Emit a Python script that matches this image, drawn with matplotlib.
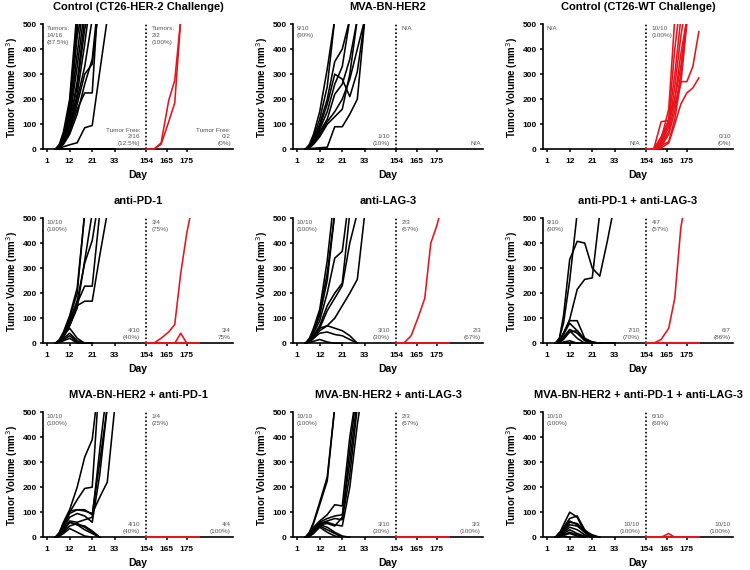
import numpy as np
import matplotlib
matplotlib.use('Agg')
import matplotlib.pyplot as plt

plt.rcParams['font.family'] = ['Liberation Sans', 'DejaVu Sans']

# measurement days: primary challenge (black) and re-challenge (red)
days_black = [5, 7, 9, 12, 15, 18, 21, 25, 29, 33]
days_red = [154, 158, 162, 166, 169, 172, 175, 178, 181]

tick_days = [1, 12, 21, 33, 154, 165, 175]
tick_labels = ['1', '12', '21', '33', '154', '165', '175']

titles = ['Control (CT26-HER-2 Challenge)', 'MVA-BN-HER2', 'Control (CT26-WT Challenge)',
          'anti-PD-1', 'anti-LAG-3', 'anti-PD-1 + anti-LAG-3',
          'MVA-BN-HER2 + anti-PD-1', 'MVA-BN-HER2 + anti-LAG-3',
          'MVA-BN-HER2 + anti-PD-1 + anti-LAG-3']

# annotations: top-left / bottom-right of each segment
notes_tl1 = ['Tumors:\n14/16\n(87.5%)', '9/10\n(90%)', 'N/A',
             '10/10\n(100%)', '10/10\n(100%)', '9/10\n(90%)',
             '10/10\n(100%)', '10/10\n(100%)', '10/10\n(100%)']
notes_br1 = ['Tumor Free:\n2/16\n(12.5%)', '1/10\n(10%)', 'N/A',
             '4/10\n(40%)', '3/10\n(30%)', '7/10\n(70%)',
             '4/10\n(40%)', '3/10\n(30%)', '10/10\n(100%)']
notes_tl2 = ['Tumors:\n2/2\n(100%)', 'N/A', '10/10\n(100%)',
             '3/4\n(75%)', '2/3\n(67%)', '4/7\n(57%)',
             '1/4\n(25%)', '2/3\n(67%)', '6/10\n(60%)']
notes_br2 = ['Tumor Free:\n0/2\n(0%)', 'N/A', '0/10\n(0%)',
             '3/4\n75%', '2/3\n(67%)', '6/7\n(86%)',
             '4/4\n(100%)', '3/3\n(100%)', '10/10\n(100%)']

# tumour volumes (mm3) per mouse
ctrl_her2_black = [
    [0, 15, 60, 180, 520],
    [0, 10, 50, 150, 450, 600],
    [0, 20, 70, 200, 560],
    [0, 5, 40, 130, 380, 620],
    [0, 10, 45, 120, 330, 560],
    [0, 8, 35, 100, 270, 520],
    [0, 12, 55, 160, 480, 700],
    [0, 5, 30, 90, 220, 420, 650],
    [0, 3, 25, 80, 180, 300, 340, 600],
    [0, 5, 25, 70, 160, 225, 225, 700],
    [0, 3, 10, 18, 26, 86, 95, 310, 520],
    [0, 2, 20, 60, 140, 260, 360, 650],
    [0, 5, 30, 85, 200, 330, 520],
    [0, 8, 40, 110, 250, 480, 600],
    [0, 0, 0, 0, 0, 0, 0, 0, 0, 0],
    [0, 0, 0, 0, 0, 0, 0, 0, 0, 0],
]
ctrl_her2_red = [
    [0, 0, 25, 195, 275, 520],
    [0, 0, 20, 110, 185, 520],
]

mva_black = [
    [0, 20, 60, 150, 320, 520],
    [0, 15, 50, 120, 250, 520],
    [0, 10, 40, 100, 200, 350, 400, 520],
    [0, 10, 35, 90, 180, 300, 280, 210, 310, 520],
    [0, 5, 30, 80, 150, 260, 330, 520],
    [0, 8, 30, 70, 120, 220, 260, 360, 520],
    [0, 5, 20, 50, 100, 130, 160, 300, 520],
    [0, 2, 4, 6, 8, 90, 90, 140, 200, 520],
    [0, 5, 25, 60, 110, 150, 200, 280, 400, 520],
    [0, 0, 0, 0, 0, 0, 0, 0, 0, 0],
]
mva_red = []

ctrl_wt_black = []
ctrl_wt_red = [
    [0, 0, 40, 160, 520],
    [0, 0, 30, 120, 400, 600],
    [0, 0, 50, 115, 300, 520],
    [0, 0, 20, 90, 250, 450, 600],
    [0, 0, 25, 100, 200, 380, 520],
    [0, 0, 10, 60, 150, 300, 520],
    [0, 0, 110, 115, 200, 330, 520],
    [0, 0, 15, 30, 120, 270, 270, 330, 470],
    [0, 0, 5, 25, 100, 180, 225, 245, 285],
    [0, 0, 20, 70, 180, 260, 500],
]

pd1_black = [
    [0, 10, 40, 100, 200, 520],
    [0, 10, 35, 90, 170, 320, 410, 600],
    [0, 5, 30, 80, 160, 228, 228, 520],
    [0, 5, 25, 70, 150, 168, 168, 350, 520],
    [0, 15, 45, 110, 220, 520],
    [0, 10, 30, 70, 140, 330, 520],
    [0, 10, 30, 60, 20, 0, 0],
    [0, 5, 20, 40, 10, 0, 0],
    [0, 5, 15, 30, 5, 0, 0],
    [0, 3, 10, 20, 0, 0, 0],
]
pd1_red = [
    [0, 0, 20, 45, 75, 280, 440, 560],
    [0, 0, 0, 0, 0, 40, 0, 0, 0],
    [0, 0, 0, 0, 0, 0, 0, 0, 0],
    [0, 0, 0, 0, 0, 0, 0, 0, 0],
]

lag3_black = [
    [0, 20, 60, 135, 330, 600],
    [0, 15, 45, 110, 250, 520],
    [0, 12, 50, 120, 280, 520],
    [0, 10, 40, 90, 200, 340, 367, 600],
    [0, 8, 30, 70, 150, 200, 240, 520],
    [0, 5, 25, 60, 130, 180, 230, 400, 520],
    [0, 5, 20, 50, 70, 100, 150, 200, 255, 520],
    [0, 8, 30, 60, 70, 60, 50, 30, 0],
    [0, 5, 20, 40, 45, 35, 30, 15, 0],
    [0, 3, 8, 15, 5, 0, 0],
]
lag3_red = [
    [0, 0, 30, 110, 180, 400, 470, 560],
    [0, 0, 0, 0, 0, 0, 0, 0, 0],
    [0, 0, 0, 0, 0, 0, 0, 0, 0],
]

pd1_lag3_black = [
    [0, 20, 110, 334, 407, 400, 300, 268, 407, 560],
    [0, 20, 80, 250, 520],
    [0, 10, 40, 95, 215, 255, 261, 520],
    [0, 10, 40, 90, 90, 20, 5, 0],
    [0, 8, 35, 80, 50, 15, 0],
    [0, 5, 25, 55, 40, 10, 0],
    [0, 5, 20, 50, 20, 0],
    [0, 3, 15, 45, 50, 15, 5, 0],
    [0, 0, 5, 10, 0],
    [0, 0, 0, 0, 0, 0, 0, 0, 0, 0],
]
pd1_lag3_red = [
    [0, 0, 15, 60, 180, 460, 600],
    [0, 0, 0, 0, 0, 0, 0, 0, 0],
    [0, 0, 0, 0, 0, 0, 0, 0, 0],
    [0, 0, 0, 0, 0, 0, 0, 0, 0],
    [0, 0, 0, 0, 0, 0, 0, 0, 0],
    [0, 0, 0, 0, 0, 0, 0, 0, 0],
    [0, 0, 0, 0, 0, 0, 0, 0, 0],
]

mva_pd1_black = [
    [0, 20, 60, 110, 200, 320, 390, 650],
    [0, 15, 55, 100, 150, 195, 200, 650],
    [0, 10, 40, 95, 110, 105, 95, 160, 220, 520],
    [0, 12, 45, 105, 110, 110, 90, 300, 520],
    [0, 10, 35, 80, 95, 85, 60, 250, 520],
    [0, 8, 30, 65, 60, 70, 80, 350, 600],
    [0, 10, 30, 60, 50, 30, 15, 0],
    [0, 5, 20, 45, 55, 40, 20, 0],
    [0, 5, 15, 35, 20, 5, 0],
    [0, 5, 25, 60, 50, 45, 25, 0],
]
mva_pd1_red = [
    [0, 0, 0, 0, 0, 0, 0, 0, 0],
    [0, 0, 0, 0, 0, 0, 0, 0, 0],
    [0, 0, 0, 0, 0, 0, 0, 0, 0],
    [0, 0, 0, 0, 0, 0, 0, 0, 0],
]

mva_lag3_black = [
    [0, 20, 60, 140, 240, 520],
    [0, 18, 55, 130, 225, 520],
    [0, 10, 40, 65, 90, 130, 125, 400, 600],
    [0, 10, 35, 60, 75, 85, 90, 300, 550],
    [0, 8, 30, 55, 65, 75, 70, 250, 520, 700],
    [0, 8, 30, 55, 60, 50, 45, 200, 450, 650],
    [0, 5, 25, 50, 55, 45, 80, 350, 600],
    [0, 5, 25, 50, 40, 20, 5, 0],
    [0, 5, 20, 45, 30, 15, 0],
    [0, 3, 15, 40, 20, 5, 0],
]
mva_lag3_red = [
    [0, 0, 0, 0, 0, 0, 0, 0, 0],
    [0, 0, 0, 0, 0, 0, 0, 0, 0],
    [0, 0, 0, 0, 0, 0, 0, 0, 0],
]

mva_pd1_lag3_black = [
    [0, 15, 50, 100, 80, 20, 0],
    [0, 10, 40, 75, 85, 30, 5, 0],
    [0, 10, 35, 65, 50, 20, 0],
    [0, 8, 30, 60, 55, 25, 10, 0],
    [0, 5, 25, 50, 45, 20, 0],
    [0, 5, 20, 40, 30, 10, 0],
    [0, 5, 15, 30, 15, 5, 0],
    [0, 3, 10, 20, 10, 0],
    [0, 2, 8, 15, 5, 0],
    [0, 20, 5, 0],
]
mva_pd1_lag3_red = [
    [0, 0, 0, 15, 0, 0, 0, 0, 0],
    [0, 0, 0, 0, 0, 0, 0, 0, 0],
    [0, 0, 0, 0, 0, 0, 0, 0, 0],
    [0, 0, 0, 0, 0, 0, 0, 0, 0],
]

black_sets = [ctrl_her2_black, mva_black, ctrl_wt_black, pd1_black, lag3_black,
              pd1_lag3_black, mva_pd1_black, mva_lag3_black, mva_pd1_lag3_black]
red_sets = [ctrl_her2_red, mva_red, ctrl_wt_red, pd1_red, lag3_red,
            pd1_lag3_red, mva_pd1_red, mva_lag3_red, mva_pd1_lag3_red]

# broken day axis: piecewise-linear scale
knot_days = [-20, 1, 12, 21, 33, 49.5, 154, 165, 175, 230]
knot_pos = [-1.909, 0, 1, 2, 3, 4.375, 4.39, 5.30, 6.19, 11.08]


def fwd(x):
    return np.interp(x, knot_days, knot_pos)


def inv(p):
    return np.interp(p, knot_pos, knot_days)


fig = plt.figure(figsize=(7.5, 5.7), dpi=100)
lefts = [0.0573, 0.3907, 0.724]
bottoms = [0.7368, 0.3965, 0.0561]
note_kw = dict(fontsize=4.6, color='#555555', linespacing=1.45)

for i in range(9):
    r, c = divmod(i, 3)
    ax = fig.add_axes([lefts[c], bottoms[r], 0.2533, 0.221])
    ax.set_xscale('function', functions=(fwd, inv))
    ax.set_xlim(-1, 198)
    ax.set_ylim(-3, 500)

    for v in black_sets[i]:
        ax.plot(days_black[:len(v)], v, color='black', lw=1.15, zorder=3)
    for v in red_sets[i]:
        ax.plot(days_red[:len(v)], v, color='#e8121a', lw=1.15, zorder=3)

    ax.vlines(154, 0, 500, colors='black', linestyles=(0, (1, 1.3)), lw=1.2)

    for s in ['top', 'right']:
        ax.spines[s].set_visible(False)
    ax.spines['bottom'].set_position(('data', 0))
    ax.spines['left'].set_bounds(0, 500)
    for s in ['left', 'bottom']:
        ax.spines[s].set_linewidth(1.2)

    ax.set_xticks(tick_days)
    ax.set_xticklabels(tick_labels)
    ax.set_yticks([0, 100, 200, 300, 400, 500])
    ax.tick_params(length=2.5, width=1.1, labelsize=6, pad=2)
    ax.tick_params(axis='x', pad=3.5)
    for lab in ax.get_xticklabels() + ax.get_yticklabels():
        lab.set_fontweight('bold')

    ax.set_title(titles[i], fontsize=8, fontweight='bold', pad=10)
    ax.set_ylabel('Tumor Volume (mm$^3$)', fontsize=7, fontweight='bold', labelpad=2)
    ax.set_xlabel('Day', fontsize=7.5, fontweight='bold', labelpad=4)

    tr = ax.get_xaxis_transform()
    ax.text(0.8, 0.985, notes_tl1[i], transform=tr, ha='left', va='top', **note_kw)
    ax.text(157, 0.985, notes_tl2[i], transform=tr, ha='left', va='top', **note_kw)
    ax.text(46.5, 0.03, notes_br1[i], transform=tr, ha='right', va='bottom',
            multialignment='right', **note_kw)
    ax.text(197, 0.03, notes_br2[i], transform=tr, ha='right', va='bottom',
            multialignment='right', **note_kw)

fig.savefig('out.png', dpi=100)
